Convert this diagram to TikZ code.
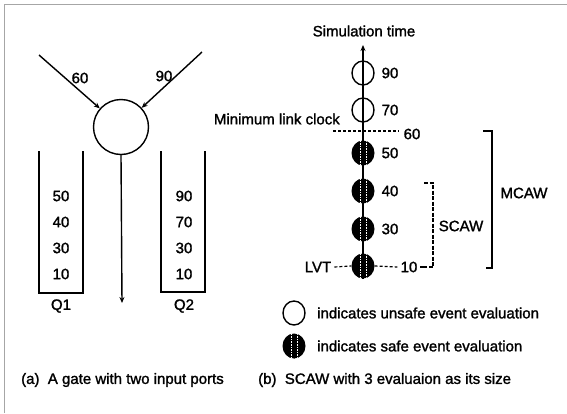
\documentclass[tikz,border=0pt]{standalone}
\usepackage{fontspec}
\setmainfont{Liberation Sans}[FakeBold=1.5]
\usetikzlibrary{arrows.meta,shapes.geometric}
\begin{document}
\begin{tikzpicture}[x=1pt,y=-1pt,
  txt/.style={inner sep=0pt,font=\fontsize{15}{17}\selectfont},
  ln/.style={line width=1.4pt},
  arr/.style={line width=1.4pt,-{Stealth[length=6pt,width=5pt]}},
  unsafe/.style={ellipse,draw,line width=1.4pt,minimum width=22pt,minimum height=24pt,inner sep=0pt},
  safe/.style={ellipse,fill=black,minimum width=23pt,minimum height=25pt,inner sep=0pt,
    path picture={
      \draw[white,line width=0.6pt,dash pattern=on 1.6pt off 1pt]
        ([xshift=-3pt]path picture bounding box.north) -- ([xshift=-3pt]path picture bounding box.south);
      \draw[white,line width=0.6pt,dash pattern=on 1.6pt off 1pt]
        ([xshift=3pt]path picture bounding box.north) -- ([xshift=3pt]path picture bounding box.south);
      \draw[black,line width=1pt]
        (path picture bounding box.north) -- (path picture bounding box.south);
    }},
  dsh/.style={line width=1.2pt,dash pattern=on 3pt off 2pt},
  frame/.style={gray!70,line width=1pt}
]
\useasboundingbox (0,0) rectangle (567,413);
% frame
\coordinate (fbl) at (4,413);
\coordinate (ftl) at (4,4);
\coordinate (ftr) at (567,4);
\draw[frame] (fbl) -- (ftl) -- (ftr);

% ===== (a) gate =====
\node[circle,draw,line width=1.4pt,minimum size=55pt,inner sep=0pt] (gate) at (121,127) {};
\coordinate (inA) at (39,55);
\coordinate (inB) at (202,52);
\coordinate (out) at (122,303);
\draw[arr] (inA) -- (gate);
\draw[arr] (inB) -- (gate);
\draw[arr] (gate.south) -- (out);
\node[txt] (l60) at (80,78) {60};
\node[txt] (l90) at (164,76) {90};

% queues
\coordinate (q1a) at (39,151);
\coordinate (q1b) at (83,293);
\coordinate (q1c) at (83,151);
\draw[ln] (q1a) |- (q1b) -- (q1c);
\coordinate (q2a) at (161,151);
\coordinate (q2b) at (205,292);
\coordinate (q2c) at (205,151);
\draw[ln] (q2a) |- (q2b) -- (q2c);
\foreach \v/\y/\n in {50/196/a,40/222/b,30/248/c,10/274/d}
  \node[txt] (q1\n) at (61,\y) {\v};
\foreach \v/\y/\n in {90/196/a,70/222/b,30/248/c,10/274/d}
  \node[txt] (q2\n) at (184,\y) {\v};
\node[txt] (Q1) at (61,306) {Q1};
\node[txt] (Q2) at (184,306) {Q2};
\node[txt,anchor=west] (capa) at (21,380) {(a)\ \ A gate with two input ports};

% ===== (b) timeline =====
\node[txt] (simt) at (364,31) {Simulation time};
\coordinate (axtop) at (363,45);
\coordinate (axbot) at (363,279);
\draw[arr,line width=1.1pt] (axbot) -- (axtop);

\node[unsafe] (e90) at (363,73) {};
\node[unsafe] (e70) at (363,110) {};
\node[safe] (e50) at (363,153) {};
\node[safe] (e40) at (363,191) {};
\node[safe] (e30) at (363,229) {};
\node[safe] (e10) at (363,266) {};

\node[txt] (t90) at (390,73) {90};
\node[txt] (t70) at (390,110) {70};
\node[txt] (t50) at (390,153) {50};
\node[txt] (t40) at (390,191) {40};
\node[txt] (t30) at (390,229) {30};

% minimum link clock
\node[txt,anchor=east] (mlc) at (340,119) {Minimum link clock};
\coordinate (mlcA) at (333,131);
\coordinate (mlcB) at (399,131);
\draw[dsh] (mlcA) -- (mlcB);
\node[txt] (t60) at (412,134) {60};

% LVT
\node[txt] (lvt) at (318,267) {LVT};
\node[txt] (t10) at (409,267) {10};
\draw[dsh] (lvt.east) ++(3,0) coordinate (lvtA) -- (e10.west);
\draw[dsh] (e10.east) -- ([xshift=-3pt]t10.west);
\coordinate (d10a) at (420,267);
\coordinate (d10b) at (425,267);
\draw[line width=1.2pt] (d10a) -- (d10b);

% SCAW bracket
\coordinate (sA) at (424,183);
\coordinate (sB) at (433,267);
\coordinate (sC) at (425,267);
\draw[line width=1.2pt,dash pattern=on 4pt off 1.5pt] (sA) -| (sB) -- (sC);
\node[txt] (scaw) at (461,226) {SCAW};

% MCAW bracket
\coordinate (mA) at (483,131);
\coordinate (mB) at (492,268);
\coordinate (mC) at (486,268);
\draw[line width=1.2pt] (mA) -| (mB) -- (mC);
\node[txt] (mcaw) at (524,193) {MCAW};

% legend
\node[unsafe] (leg1) at (294,313) {};
\node[safe] (leg2) at (294,346) {};
\node[txt,anchor=west] (leg1t) at (317,313) {indicates unsafe event evaluation};
\node[txt,anchor=west] (leg2t) at (317,346) {indicates safe event evaluation};
\node[txt,anchor=west] (capb) at (258,380) {(b)\ \ SCAW with 3 evaluaion as its size};
\end{tikzpicture}
\end{document}
